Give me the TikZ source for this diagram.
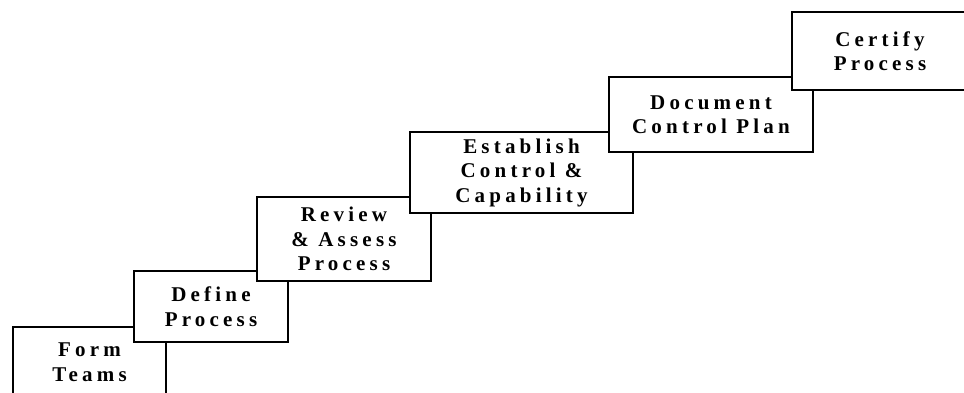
\documentclass[tikz,border=0pt]{standalone}
\usepackage{fontspec}
\setmainfont{Liberation Serif}[LetterSpace=20]
\usepackage{tikz}
\tikzset{x=1pt, y=-1pt,
    stepbox/.style={rectangle, draw, fill=white, line width=1.3pt,
        align=center, inner sep=0pt,
        font=\fontsize{21}{24.5}\selectfont\bfseries}}

\begin{document}
\begin{tikzpicture}
\useasboundingbox (0,0) rectangle (964,392);
\fill[white] (0,0) rectangle (964,392);
\clip (0,0) rectangle (964,392);

% the staircase, bottom step first
\node[stepbox, minimum width=153pt, minimum height=70pt] (form)      at (89.5,362)  {Form\\Teams};
\node[stepbox, minimum width=154pt, minimum height=71pt] (define)    at (211,306.5) {Define\\Process};
\node[stepbox, minimum width=174pt, minimum height=84pt] (review)    at (344,239)   {Review\\\& Assess\\Process};
\node[stepbox, minimum width=223pt, minimum height=81pt] (establish) at (521.5,172.5) {Establish\\Control \&\\Capability};
\node[stepbox, minimum width=204pt, minimum height=75pt] (document)  at (711,114.5) {Document\\Control Plan};
\node[stepbox, minimum width=176pt, minimum height=78pt] (certify)   at (880,51)    {Certify\\Process};
\end{tikzpicture}
\end{document}
